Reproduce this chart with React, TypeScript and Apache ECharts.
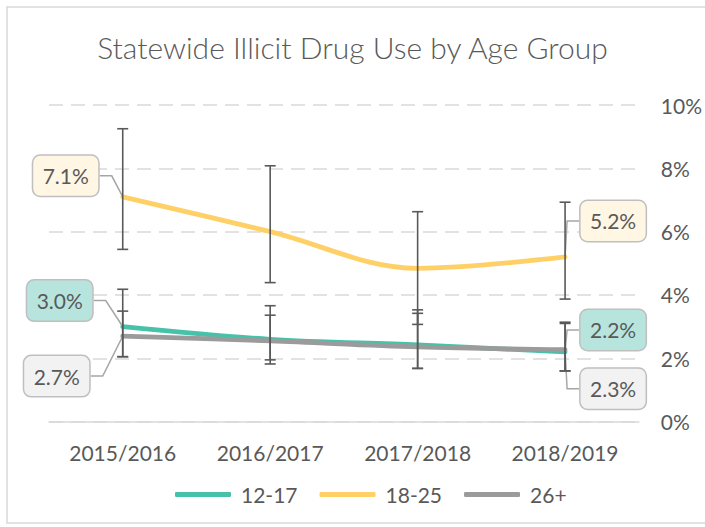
import React, { useEffect, useRef } from "react";
import * as echarts from "echarts";

const categories = ["2015/2016", "2016/2017", "2017/2018", "2018/2019"];
const seriesNames = ["12-17", "18-25", "26+"];
const values1217 = [3.0, 2.6, 2.42, 2.2];
const values1825 = [7.1, 6.0, 4.84, 5.2];
const values26 = [2.7, 2.55, 2.36, 2.27];
const err1217Low = [2.05, 1.82, 1.68, 1.6];
const err1217High = [4.18, 3.66, 3.53, 3.14];
const err1825Low = [5.44, 4.39, 3.07, 3.87];
const err1825High = [9.25, 8.08, 6.63, 6.93];
const err26Low = [2.05, 1.95, 1.68, 1.6];
const err26High = [3.49, 3.36, 3.42, 3.1];
const yTicks = [0, 2, 4, 6, 8, 10];

const lineColors = ["#47C2AA", "#FFD066", "#9B9B9B"];
const labelFills = ["#B7E5DE", "#FFF6E4", "#F2F2F2"];
const FONT = "Lato, 'Noto Sans', sans-serif";
const TEXT = "#595959";

// label offsets (dx, dy) from point for first and last point of each series
const labelOffsets: Record<number, Record<number, [number, number]>> = {
  0: { 0: [-63, -26], 3: [48, -22] },
  1: { 0: [-57, -21], 3: [48, -36] },
  2: { 0: [-66, 40], 3: [48, 39] },
};

function makeLine(idx: number, vals: number[]) {
  return {
    name: seriesNames[idx],
    type: "line",
    smooth: 0.35,
    symbol: "circle",
    symbolSize: 2,
    showSymbol: true,
    z: 2,
    itemStyle: { color: lineColors[idx] },
    lineStyle: { color: lineColors[idx], width: 4.8, cap: "round" },
    data: vals.map((v, i) => ({
      value: v,
      label: { show: i === 0 || i === vals.length - 1 },
    })),
    label: {
      show: false,
      position: "inside",
      formatter: (p: any) => p.value.toFixed(1) + "%",
      fontFamily: FONT,
      fontSize: 21,
      color: TEXT,
      backgroundColor: labelFills[idx],
      borderColor: "#BFBFBF",
      borderWidth: 1.5,
      borderRadius: 7,
      width: 65,
      height: 40,
      lineHeight: 40,
      align: "center",
      verticalAlign: "middle",
      padding: 0,
    },
    labelLine: {
      show: true,
      length2: 12,
      lineStyle: { color: "#A6A6A6", width: 1.5 },
    },
    labelLayout: (p: any) => {
      const off = labelOffsets[idx][p.dataIndex];
      if (!off) return {};
      const cx = p.rect.x + p.rect.width / 2;
      const cy = p.rect.y + p.rect.height / 2;
      return { x: cx + off[0], y: cy + off[1], align: "center", verticalAlign: "middle" };
    },
  };
}

function makeErr(low: number[], high: number[]) {
  return {
    type: "custom",
    z: 5,
    silent: true,
    data: low.map((l, i) => [i, l, high[i]]),
    encode: { x: 0, y: [1, 2] },
    renderItem: (params: any, api: any) => {
      const x = api.value(0);
      const lo = api.coord([x, api.value(1)]);
      const hi = api.coord([x, api.value(2)]);
      const hw = 5.5;
      const style = { stroke: "#595959", lineWidth: 1.6 };
      return {
        type: "group",
        children: [
          { type: "line", shape: { x1: lo[0], y1: lo[1], x2: hi[0], y2: hi[1] }, style },
          { type: "line", shape: { x1: lo[0] - hw, y1: lo[1], x2: lo[0] + hw, y2: lo[1] }, style },
          { type: "line", shape: { x1: hi[0] - hw, y1: hi[1], x2: hi[0] + hw, y2: hi[1] }, style },
        ],
      };
    },
  };
}

export default function App() {
  const ref = useRef<HTMLDivElement>(null);
  useEffect(() => {
    if (!ref.current) return;
    const chart = echarts.init(ref.current, null, { renderer: "svg" });
    chart.setOption({
      animation: false,
      backgroundColor: "#ffffff",
      graphic: [
        {
          type: "rect",
          shape: { x: 7, y: 7, width: 720, height: 516 },
          style: { fill: "none", stroke: "#D9D9D9", lineWidth: 1.5 },
          silent: true,
          z: -1,
        },
      ],
      title: {
        text: "Statewide Illicit Drug Use by Age Group",
        left: "center",
        top: 32,
        padding: 0,
        textStyle: { fontFamily: FONT, fontSize: 30, fontWeight: 300, color: TEXT },
      },
      legend: {
        data: seriesNames,
        left: 170,
        top: 479,
        icon: "roundRect",
        itemWidth: 56,
        itemHeight: 5,
        itemGap: 22,
        textStyle: { fontFamily: FONT, fontSize: 21, color: TEXT, padding: [0, 0, 0, 5] },
      },
      grid: { left: 49, right: 62, top: 105, bottom: 105.4 },
      xAxis: {
        type: "category",
        data: categories,
        boundaryGap: true,
        axisTick: { show: false },
        axisLine: { lineStyle: { color: "#D9D9D9", width: 1.5 } },
        axisLabel: { fontFamily: FONT, fontSize: 21, color: TEXT, margin: 20 },
      },
      yAxis: {
        type: "value",
        position: "right",
        min: yTicks[0],
        max: yTicks[yTicks.length - 1],
        interval: 2,
        axisLine: { show: false },
        axisTick: { show: false },
        axisLabel: {
          fontFamily: FONT,
          fontSize: 21,
          color: TEXT,
          margin: 22,
          align: "left",
          formatter: "{value}%",
        },
        splitLine: { lineStyle: { color: "#D9D9D9", width: 1.5, type: [14, 8] } },
      },
      series: [
        makeLine(0, values1217),
        makeLine(1, values1825),
        makeLine(2, values26),
        makeErr(err1217Low, err1217High),
        makeErr(err1825Low, err1825High),
        makeErr(err26Low, err26High),
      ],
    });
    return () => chart.dispose();
  }, []);
  return (
    <div
      ref={ref}
      style={{ position: "fixed", left: 0, top: 0, width: 705, height: 527 }}
    />
  );
}
